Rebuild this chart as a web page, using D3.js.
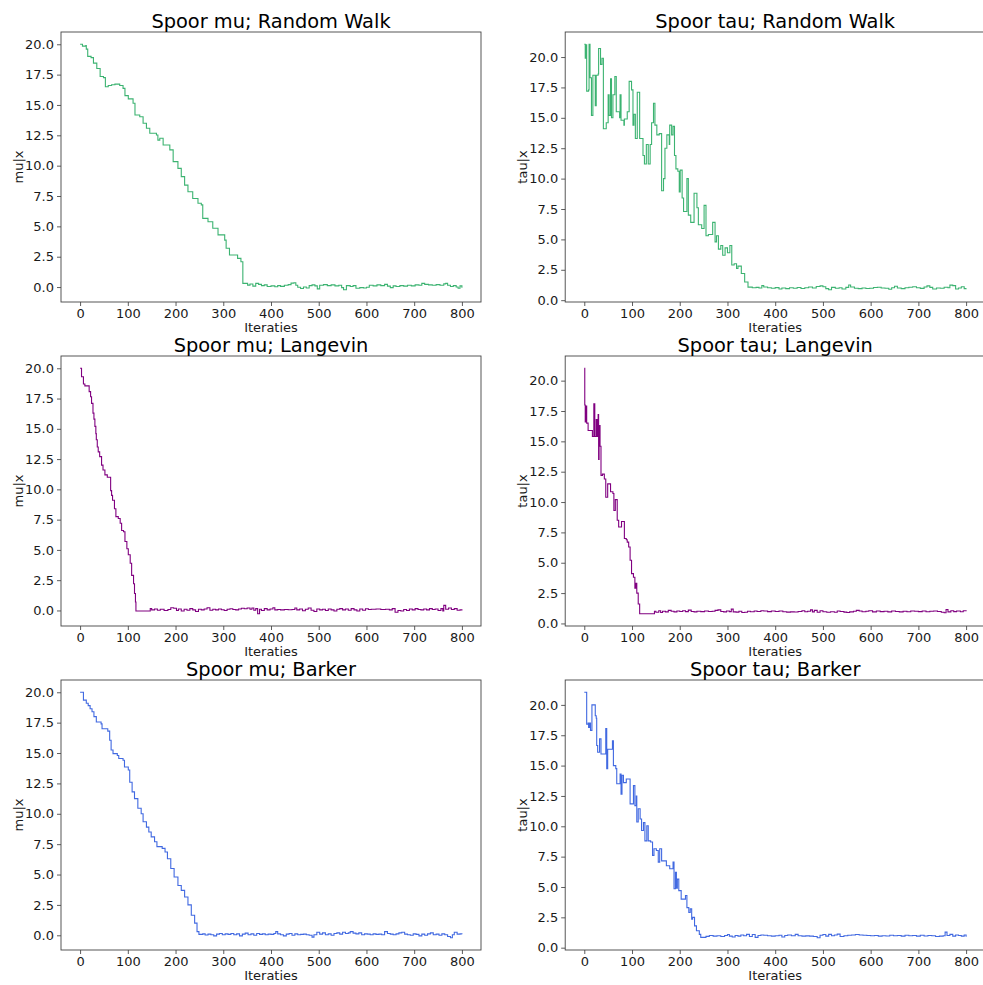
<!DOCTYPE html>
<html>
<head>
<meta charset="utf-8">
<script src="https://cdn.jsdelivr.net/npm/d3@7"></script>
<style>
  body { margin: 0; background: #fff; }
  svg { display: block; font-family: "DejaVu Sans", sans-serif; }
</style>
</head>
<body>
<svg id="chart" width="983" height="985"></svg>
<script>
// Tick labels
const xTicks = [0, 100, 200, 300, 400, 500, 600, 700, 800];
const yTicks = [0, 2.5, 5, 7.5, 10, 12.5, 15, 17.5, 20];

// Traces as [iteration, value] change points (value holds until next point)
const muRandomWalk = [
  [0,20.0],[5,19.85],[12,19.9],[13,19.6],[16,19.0],[23,18.9],[28,18.45],[35,18.0],[42,17.35],[49,17.25],[53,16.5],
  [59,16.6],[66,16.67],[73,16.72],[83,16.6],[90,16.37],[94,15.77],[101,15.5],[111,15.14],[115,14.17],[125,14.03],
  [132,13.5],[139,13.08],[146,12.67],[160,12.53],[163,12.1],[167,12.26],[174,11.7],[188,11.3],[195,10.33],[205,9.78],
  [212,9.1],[219,8.4],[226,7.85],[236,7.3],[247,6.9],[254,6.77],[257,5.66],[268,5.38],[278,4.84],[289,4.3],[303,3.87],
  [306,3.2],[313,2.64],[330,2.36],[337,2.09],[341,0.3],[351,0.16],[356,0.25],[362,0.08],[368,0.3],[374,0.22],
  [380,0.12],[386,0.18],[392,0.05],[400,0.1],[408,0.02],[414,0.12],[420,0.06],[428,0.15],[436,0.2],[442,0.32],
  [448,0.35],[452,0.15],[456,-0.02],[462,-0.12],[468,0.0],[474,-0.08],[480,0.12],[486,0.18],[492,0.1],[497,-0.15],
  [502,0.15],[510,0.2],[518,0.12],[526,0.18],[534,0.1],[542,0.15],[548,-0.05],[552,-0.22],[558,0.12],[566,0.05],
  [572,0.12],[578,-0.1],[586,-0.05],[594,-0.08],[600,-0.02],[606,0.15],[614,0.1],[622,0.18],[630,0.12],[638,0.22],
  [644,0.08],[650,-0.05],[656,0.1],[662,0.05],[670,0.12],[678,0.08],[686,0.15],[694,0.1],[702,0.18],[710,0.15],
  [716,0.3],[722,0.22],[730,0.18],[738,0.15],[746,0.2],[754,0.15],[762,0.26],[766,0.3],[770,0.15],[776,0.05],
  [782,0.12],[788,0.0],[792,-0.1],[796,0.1],[800,-0.05]
];

const tauRandomWalk = [
  [0,21.05],[2,19.9],[3,21.0],[5,17.2],[9,17.3],[10,21.05],[12,18.3],[15,15.2],[18,18.5],[23,16.0],[25,18.5],
  [29,18.6],[30,20.7],[34,19.4],[37,19.9],[40,14.1],[46,14.6],[50,16.9],[52,15.2],[55,18.2],[57,15.0],[60,16.9],
  [64,18.4],[67,15.5],[74,15.0],[75,16.9],[77,14.8],[83,14.4],[84,14.9],[90,15.5],[94,18.0],[99,17.3],[102,14.4],
  [104,15.3],[107,13.3],[111,17.1],[116,13.3],[123,11.9],[126,11.2],[130,12.8],[134,11.2],[138,12.8],[141,14.6],
  [145,16.2],[148,14.4],[152,13.6],[157,13.7],[162,9.0],[166,10.0],[169,12.5],[173,13.6],[178,12.8],[179,14.4],
  [183,13.6],[186,14.3],[189,11.9],[192,10.8],[196,10.6],[199,8.9],[201,10.7],[205,8.4],[208,7.3],[215,10.0],
  [218,7.0],[223,6.4],[230,8.8],[236,7.6],[239,6.2],[246,5.9],[251,7.8],[255,5.3],[260,5.4],[269,6.4],[274,4.8],
  [277,5.3],[281,4.2],[286,4.5],[290,3.7],[295,4.3],[300,3.9],[305,4.5],[309,2.9],[314,3.0],[319,2.6],[322,2.8],
  [329,2.2],[336,1.5],[343,1.07],[352,1.02],[360,1.05],[366,1.0],[372,1.2],[376,1.08],[384,1.02],[392,0.98],
  [400,1.03],[408,0.92],[414,1.0],[422,0.95],[430,1.02],[438,0.98],[446,1.04],[454,0.96],[462,1.02],[470,1.08],
  [478,1.0],[486,1.12],[494,1.18],[500,1.1],[506,0.95],[512,0.86],[518,1.05],[526,0.98],[534,1.02],[540,0.92],
  [548,1.05],[554,1.25],[558,1.08],[566,0.98],[574,0.95],[582,1.0],[590,0.96],[598,0.98],[606,1.04],[614,1.06],
  [622,1.0],[630,0.98],[638,0.9],[644,1.02],[650,1.15],[656,1.0],[664,0.95],[672,1.02],[680,1.06],[688,1.1],
  [696,1.02],[704,0.97],[712,1.08],[718,1.18],[724,1.05],[730,0.92],[738,1.0],[746,0.98],[754,1.06],[762,1.02],
  [766,1.24],[772,1.2],[778,0.92],[784,1.0],[790,1.1],[796,0.95],[800,0.98]
];

const muLangevin = [
  [0,20.0],[3,19.3],[7,18.7],[10,18.55],[19,18.07],[22,17.65],[24,17.1],[27,16.3],[29,15.8],[31,15.2],[33,14.6],
  [34,14.1],[36,13.5],[38,13.1],[41,12.7],[45,12.0],[48,11.6],[52,11.2],[57,11.0],[64,9.9],[66,9.5],[68,9.1],
  [72,8.4],[75,7.75],[80,7.6],[84,7.2],[87,6.6],[91,6.5],[94,5.7],[98,5.1],[101,4.6],[105,3.9],[108,2.9],[112,2.2],
  [114,1.4],[116,0.7],[117,-0.05],[147,0.15],[150,0.05],[156,0.12],[162,0.02],[168,0.1],[176,0.0],[184,0.08],
  [190,0.22],[196,0.18],[202,0.0],[206,0.12],[212,-0.05],[218,0.1],[224,0.02],[230,0.15],[236,0.05],[242,-0.08],
  [248,0.1],[254,0.05],[260,0.12],[266,0.22],[272,0.02],[278,0.1],[284,0.05],[290,0.12],[296,0.06],[302,0.0],
  [308,0.1],[314,0.14],[320,0.08],[326,0.05],[332,0.12],[338,0.18],[344,0.14],[350,0.2],[356,0.1],[360,0.2],
  [364,0.02],[368,0.15],[372,-0.27],[376,0.1],[380,0.0],[386,0.15],[392,0.05],[398,0.12],[404,0.22],[408,0.05],
  [414,0.08],[420,0.05],[428,0.08],[436,0.06],[444,0.08],[450,0.2],[454,0.05],[460,0.12],[466,-0.02],[472,0.1],
  [478,0.2],[484,0.02],[490,-0.08],[496,0.12],[502,0.05],[508,0.1],[514,0.0],[520,0.12],[526,0.05],[532,-0.05],
  [538,0.1],[544,0.15],[550,0.05],[556,0.12],[562,0.02],[568,0.15],[574,0.05],[580,-0.05],[586,0.12],[592,0.02],
  [598,0.14],[604,0.08],[610,0.1],[620,0.12],[630,0.08],[640,0.1],[648,0.05],[654,0.15],[660,-0.15],[666,0.0],
  [672,-0.05],[678,0.08],[684,0.0],[690,0.12],[696,0.05],[702,0.15],[708,0.08],[714,0.05],[720,0.12],[726,0.05],
  [732,0.15],[738,0.08],[744,0.12],[750,0.0],[756,0.15],[760,-0.05],[762,0.42],[766,0.1],[772,0.2],[778,0.08],
  [784,0.15],[790,0.02],[796,0.05],[800,0.0]
];

const tauLangevin = [
  [0,21.02],[1,18.0],[2,16.6],[3,17.9],[5,16.5],[8,15.9],[17,15.4],[20,18.1],[22,15.4],[25,16.8],[27,15.4],
  [29,17.2],[30,13.5],[31,16.3],[33,14.6],[35,12.2],[38,12.3],[42,11.9],[45,10.4],[49,11.5],[55,10.85],[60,10.7],
  [62,9.3],[65,10.2],[69,8.5],[72,7.95],[78,8.4],[84,7.0],[88,6.9],[90,6.7],[93,6.3],[96,5.2],[99,4.1],[103,3.8],
  [106,2.9],[108,3.3],[110,2.5],[113,1.6],[116,0.8],[147,1.0],[150,0.92],[156,1.05],[160,0.9],[164,1.0],[170,0.95],
  [176,1.08],[182,1.0],[188,0.95],[194,1.02],[200,0.98],[206,1.05],[212,0.97],[218,1.1],[224,0.98],[230,0.95],
  [236,1.0],[244,0.97],[252,1.02],[260,0.98],[268,1.0],[274,1.08],[280,1.12],[286,0.98],[292,0.95],[298,1.02],
  [304,0.97],[308,1.18],[312,0.95],[318,0.93],[324,1.0],[330,0.9],[336,0.92],[342,1.0],[348,0.96],[356,1.02],
  [362,0.98],[370,1.05],[376,1.02],[384,0.97],[392,1.02],[400,0.98],[408,1.02],[416,0.96],[424,0.93],[432,0.95],
  [440,0.94],[448,0.98],[456,1.05],[462,0.96],[468,1.0],[474,1.12],[478,0.95],[482,1.08],[488,0.92],[494,1.05],
  [500,0.96],[508,0.92],[516,0.96],[524,0.92],[530,1.02],[536,0.98],[544,0.93],[550,0.9],[556,0.95],[564,1.0],
  [570,1.08],[576,1.02],[582,0.96],[590,1.0],[596,1.05],[604,0.95],[612,1.02],[620,0.97],[628,1.0],[636,0.95],
  [644,1.03],[652,0.98],[660,0.95],[668,1.0],[676,0.96],[684,1.02],[692,1.0],[700,0.97],[708,1.02],[716,0.96],
  [724,1.0],[732,1.02],[740,0.98],[748,0.92],[754,0.88],[758,1.15],[762,0.95],[768,1.05],[774,0.97],[780,1.02],
  [788,0.96],[794,1.05],[800,1.08]
];

const muBarker = [
  [0,20.0],[7,19.35],[13,19.1],[17,18.9],[21,18.65],[25,18.4],[29,18.0],[34,17.55],[44,17.4],[46,17.0],[58,16.8],
  [62,16.05],[65,15.25],[69,14.95],[78,14.8],[81,14.55],[90,14.4],[93,13.85],[101,13.6],[104,12.6],[109,11.8],
  [114,11.25],[121,10.45],[128,10.0],[132,9.35],[139,8.9],[144,8.5],[149,8.1],[156,7.7],[161,7.3],[172,7.15],
  [178,6.85],[183,6.3],[190,5.5],[197,4.8],[205,4.1],[212,3.7],[219,3.15],[226,2.5],[233,1.65],[240,1.0],[245,0.3],
  [249,0.08],[257,0.12],[262,0.02],[268,0.1],[274,0.05],[280,-0.05],[286,0.1],[292,0.15],[298,0.05],[304,0.12],
  [310,0.08],[316,0.15],[322,0.05],[328,0.12],[334,-0.05],[340,0.1],[346,0.18],[352,0.05],[358,0.12],[364,0.0],
  [370,0.15],[376,0.08],[382,0.12],[388,0.05],[394,0.1],[400,0.08],[406,0.15],[410,0.3],[414,0.12],[420,0.05],
  [426,-0.05],[432,0.1],[438,0.15],[444,0.0],[450,0.12],[456,0.05],[462,0.08],[468,0.1],[474,0.05],[480,0.0],
  [486,-0.15],[490,0.05],[496,0.25],[502,0.1],[508,0.2],[514,0.05],[520,0.12],[526,0.0],[532,0.15],[538,0.2],
  [544,0.1],[550,0.25],[556,0.15],[562,0.2],[566,0.3],[572,0.18],[578,0.12],[584,0.2],[590,0.05],[596,0.12],
  [602,0.1],[608,0.05],[614,0.12],[620,0.08],[626,0.1],[632,0.05],[638,0.3],[644,0.15],[650,0.1],[656,0.05],
  [662,0.12],[668,0.2],[674,0.25],[680,0.1],[686,0.05],[692,0.0],[698,0.12],[704,0.08],[710,-0.05],[716,0.1],
  [722,0.0],[728,0.12],[734,0.2],[740,0.05],[746,0.1],[752,0.0],[758,0.12],[764,0.05],[770,-0.1],[776,-0.2],
  [780,0.05],[784,0.25],[790,0.1],[796,0.12],[800,0.08]
];

const tauBarker = [
  [0,21.04],[5,18.4],[8,18.5],[9,18.15],[11,18.5],[13,17.9],[16,20.0],[23,19.1],[25,18.9],[26,16.65],[28,16.1],
  [32,17.2],[35,15.95],[45,18.05],[47,14.75],[49,16.35],[59,17.05],[61,15.0],[66,14.75],[68,13.5],[75,14.3],
  [77,12.65],[79,14.2],[82,13.6],[88,13.9],[96,11.85],[103,13.35],[106,11.7],[109,12.5],[110,10.35],[113,11.45],
  [117,10.6],[120,9.65],[124,10.3],[127,8.8],[131,10.05],[134,8.8],[139,8.7],[143,7.6],[146,8.15],[151,8.0],
  [155,7.05],[158,8.15],[162,7.15],[172,6.75],[179,6.5],[186,7.05],[188,4.85],[191,6.2],[193,4.9],[195,5.65],
  [198,4.7],[203,4.0],[212,4.3],[215,3.3],[219,2.9],[222,3.2],[225,2.35],[227,2.5],[231,1.8],[235,1.4],[241,1.1],
  [244,0.85],[255,0.93],[262,1.0],[270,0.95],[278,0.98],[286,0.92],[294,1.0],[300,1.08],[304,0.95],[310,0.88],
  [316,1.0],[322,0.95],[328,1.05],[334,0.98],[340,1.1],[346,0.92],[352,1.08],[358,0.85],[364,1.0],[370,1.05],
  [376,1.02],[384,0.98],[392,0.95],[400,0.98],[408,1.02],[414,0.88],[420,1.0],[426,1.05],[434,0.98],[442,1.1],
  [448,0.98],[456,0.95],[464,0.97],[472,0.95],[480,0.92],[488,0.82],[494,1.02],[500,1.08],[506,0.95],[512,1.1],
  [518,0.98],[524,1.05],[530,1.12],[536,0.92],[544,0.98],[552,1.02],[560,1.05],[568,1.08],[576,1.05],[584,1.02],
  [592,1.0],[600,0.98],[608,1.0],[616,0.95],[624,0.98],[632,0.96],[640,1.02],[648,0.98],[656,1.0],[664,0.95],
  [672,1.02],[680,0.98],[688,1.0],[696,0.95],[704,1.02],[712,0.96],[720,1.0],[728,0.98],[736,0.92],[744,0.95],
  [752,0.98],[756,1.28],[760,1.0],[766,1.1],[772,0.95],[778,1.05],[784,1.0],[790,0.95],[796,1.05],[800,0.9]
];

const titles = ['Spoor mu; Random Walk', 'Spoor tau; Random Walk', 'Spoor mu; Langevin',
                'Spoor tau; Langevin', 'Spoor mu; Barker', 'Spoor tau; Barker'];
const yLabels = ['mu|x', 'tau|x'];
const xLabel = 'Iteraties';
const colors = ['#3cb371', '#800080', '#4169e1']; // mediumseagreen, purple, royalblue

const series = [muRandomWalk, tauRandomWalk, muLangevin, tauLangevin, muBarker, tauBarker];

const svg = d3.select('#chart');
const colX = [61, 565.2];
const rowY = [32, 356, 680];
const W = 420, H = 270;

// matplotlib-like 5% margins
function padded(ext) {
    const p = (ext[1] - ext[0]) * 0.05;
    return [ext[0] - p, ext[1] + p];
}

series.forEach((data, i) => {
    const col = i % 2, row = Math.floor(i / 2);
    const g = svg.append('g')
        .attr('transform', `translate(${colX[col]},${rowY[row]})`);

    const x = d3.scaleLinear()
        .domain(padded(d3.extent(data, d => d[0])))
        .range([0, W]);
    const y = d3.scaleLinear()
        .domain(padded(d3.extent(data, d => d[1])))
        .range([H, 0]);

    const line = d3.line()
        .x(d => x(d[0]))
        .y(d => y(d[1]))
        .curve(d3.curveStepAfter);

    g.append('path')
        .datum(data)
        .attr('fill', 'none')
        .attr('stroke', colors[row])
        .attr('stroke-width', 1.1)
        .attr('d', line);

    // Axes
    const xAxis = g.append('g')
        .attr('transform', `translate(0,${H})`)
        .call(d3.axisBottom(x).tickValues(xTicks).tickSize(4).tickPadding(3).tickFormat(d3.format('d')));
    const yAxis = g.append('g')
        .call(d3.axisLeft(y).tickValues(yTicks).tickSize(4).tickPadding(3).tickFormat(d3.format('.1f')));

    [xAxis, yAxis].forEach(a => {
        a.select('.domain').remove();
        a.selectAll('line').attr('stroke', '#333').attr('stroke-width', 0.8);
        a.selectAll('text')
            .attr('fill', '#1a1a1a')
            .style('font-size', '13px')
            .style('font-family', '"DejaVu Sans", sans-serif');
    });

    // Frame
    g.append('rect')
        .attr('width', W).attr('height', H)
        .attr('fill', 'none')
        .attr('stroke', '#444')
        .attr('stroke-width', 0.9);

    // Title
    g.append('text')
        .attr('x', W / 2).attr('y', -4)
        .attr('text-anchor', 'middle')
        .attr('fill', '#000')
        .style('font-size', '19.4px')
        .text(titles[i]);

    // Axis labels
    g.append('text')
        .attr('x', W / 2).attr('y', H + 30)
        .attr('text-anchor', 'middle')
        .attr('fill', '#1a1a1a')
        .style('font-size', '13px')
        .text(xLabel);

    g.append('text')
        .attr('transform', `translate(-43,${H / 2}) rotate(-90)`)
        .attr('text-anchor', 'middle')
        .attr('dy', '0.35em')
        .attr('fill', '#1a1a1a')
        .style('font-size', '13px')
        .text(yLabels[col]);
});
</script>
</body>
</html>
